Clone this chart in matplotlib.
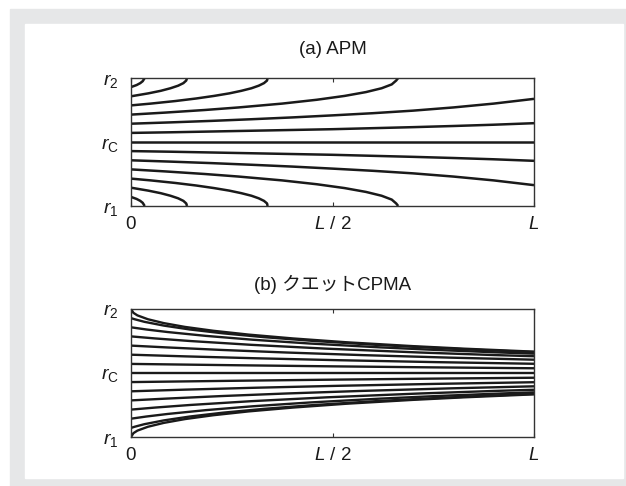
import matplotlib
matplotlib.use("Agg")
import matplotlib.pyplot as plt
from matplotlib.patches import Rectangle

plt.rcParams['font.family'] = ['Liberation Sans', 'Noto Sans CJK JP', 'DejaVu Sans']
plt.rcParams['mathtext.fontset'] = 'custom'
plt.rcParams['mathtext.rm'] = 'Liberation Sans'
plt.rcParams['mathtext.it'] = 'Liberation Sans:italic'

# axial position (fraction of L) and radius (0 = r1, 0.5 = rC, 1 = r2)
apm_x = [
    [0, 0.014, 0.023, 0.029, 0.032, 0.034],
    [0, 0.043, 0.074, 0.098, 0.117, 0.130, 0.137, 0.139],
    [0, 0.049, 0.110, 0.162, 0.206, 0.244, 0.274, 0.299, 0.317, 0.330, 0.3375, 0.339],
    [0, 0.086, 0.183, 0.267, 0.375, 0.461, 0.530, 0.583, 0.622, 0.647, 0.658, 0.663],
    [0, 0.1, 0.2, 0.3, 0.4, 0.5, 0.6, 0.7, 0.8, 0.9, 1.0],
    [0, 0.1, 0.2, 0.3, 0.4, 0.5, 0.6, 0.7, 0.8, 0.9, 1.0],
    [0, 1.0],
    [0, 0.1, 0.2, 0.3, 0.4, 0.5, 0.6, 0.7, 0.8, 0.9, 1.0],
    [0, 0.1, 0.2, 0.3, 0.4, 0.5, 0.6, 0.7, 0.8, 0.9, 1.0],
    [0, 0.086, 0.183, 0.267, 0.375, 0.461, 0.530, 0.583, 0.622, 0.647, 0.658, 0.663],
    [0, 0.049, 0.110, 0.162, 0.206, 0.244, 0.274, 0.299, 0.317, 0.330, 0.3375, 0.339],
    [0, 0.043, 0.074, 0.098, 0.117, 0.130, 0.137, 0.139],
    [0, 0.014, 0.023, 0.029, 0.032, 0.034],
]
apm_r = [
    [0.929, 0.945, 0.96, 0.975, 0.99, 1.0],
    [0.857, 0.88, 0.90, 0.92, 0.94, 0.96, 0.98, 1.0],
    [0.786, 0.80, 0.82, 0.84, 0.86, 0.88, 0.90, 0.92, 0.94, 0.96, 0.98, 1.0],
    [0.714, 0.73, 0.75, 0.77, 0.80, 0.83, 0.86, 0.89, 0.92, 0.95, 0.98, 1.0],
    [0.643, 0.6535, 0.665, 0.678, 0.692, 0.708, 0.725, 0.745, 0.770, 0.800, 0.837],
    [0.571, 0.576, 0.582, 0.588, 0.594, 0.600, 0.608, 0.616, 0.625, 0.635, 0.647],
    [0.5, 0.5],
    [0.429, 0.424, 0.418, 0.412, 0.406, 0.400, 0.392, 0.384, 0.375, 0.365, 0.353],
    [0.357, 0.3465, 0.335, 0.322, 0.308, 0.292, 0.275, 0.255, 0.230, 0.200, 0.163],
    [0.286, 0.27, 0.25, 0.23, 0.20, 0.17, 0.14, 0.11, 0.08, 0.05, 0.02, 0.0],
    [0.214, 0.20, 0.18, 0.16, 0.14, 0.12, 0.10, 0.08, 0.06, 0.04, 0.02, 0.0],
    [0.143, 0.12, 0.10, 0.08, 0.06, 0.04, 0.02, 0.0],
    [0.071, 0.055, 0.04, 0.025, 0.01, 0.0],
]

cpma_x = [
    [0, 0.006, 0.016, 0.042, 0.081, 0.134, 0.204, 0.292, 0.402, 0.535, 0.699, 0.827, 0.976, 1.0],
    [0, 0.009, 0.033, 0.082, 0.146, 0.228, 0.330, 0.455, 0.608, 0.728, 0.866, 0.984, 1.0],
    [0, 0.038, 0.091, 0.186, 0.302, 0.445, 0.620, 0.758, 0.918, 1.0],
    [0, 0.060, 0.146, 0.299, 0.486, 0.717, 0.903, 1.0],
    [0, 0.088, 0.226, 0.386, 0.572, 0.792, 1.0],
    [0, 0.134, 0.311, 0.515, 0.756, 1.0],
    [0, 0.25, 0.5, 0.75, 1.0],
    [0, 1.0],
    [0, 0.25, 0.5, 0.75, 1.0],
    [0, 0.134, 0.311, 0.515, 0.756, 1.0],
    [0, 0.088, 0.226, 0.386, 0.572, 0.792, 1.0],
    [0, 0.060, 0.146, 0.299, 0.486, 0.717, 0.903, 1.0],
    [0, 0.038, 0.091, 0.186, 0.302, 0.445, 0.620, 0.758, 0.918, 1.0],
    [0, 0.009, 0.033, 0.082, 0.146, 0.228, 0.330, 0.455, 0.608, 0.728, 0.866, 0.984, 1.0],
    [0, 0.006, 0.016, 0.042, 0.081, 0.134, 0.204, 0.292, 0.402, 0.535, 0.699, 0.827, 0.976, 1.0],
]
cpma_r = [
    [1.0, 0.97, 0.95, 0.92, 0.89, 0.86, 0.83, 0.80, 0.77, 0.74, 0.71, 0.69, 0.67, 0.667],
    [0.929, 0.92, 0.90, 0.87, 0.84, 0.81, 0.78, 0.75, 0.72, 0.70, 0.68, 0.665, 0.663],
    [0.857, 0.84, 0.82, 0.79, 0.76, 0.73, 0.70, 0.68, 0.66, 0.651],
    [0.786, 0.77, 0.75, 0.72, 0.69, 0.66, 0.64, 0.631],
    [0.714, 0.70, 0.68, 0.66, 0.64, 0.62, 0.604],
    [0.643, 0.63, 0.615, 0.60, 0.585, 0.572],
    [0.571, 0.561, 0.552, 0.544, 0.537],
    [0.5, 0.5],
    [0.429, 0.439, 0.448, 0.456, 0.463],
    [0.357, 0.37, 0.385, 0.40, 0.415, 0.428],
    [0.286, 0.30, 0.32, 0.34, 0.36, 0.38, 0.396],
    [0.214, 0.23, 0.25, 0.28, 0.31, 0.34, 0.36, 0.369],
    [0.143, 0.16, 0.18, 0.21, 0.24, 0.27, 0.30, 0.32, 0.34, 0.349],
    [0.071, 0.08, 0.10, 0.13, 0.16, 0.19, 0.22, 0.25, 0.28, 0.30, 0.32, 0.335, 0.337],
    [0.0, 0.03, 0.05, 0.08, 0.11, 0.14, 0.17, 0.20, 0.23, 0.26, 0.29, 0.31, 0.33, 0.333],
]

titles = ['(a) APM', '(b) クエットCPMA']
x_ticks = [0, 0.5, 1.0]
x_labels = ['0', '$L$ / 2', '$L$']
r_ticks = [0, 0.5, 1.0]
r_labels = ['$r_1$', '$r_{\\mathrm{C}}$', '$r_2$']

W, H = 626, 486
fig = plt.figure(figsize=(W / 100, H / 100), dpi=100)
fig.patches.append(Rectangle((10 / W, 0), 1 - 10 / W, 1 - 9 / H,
                             transform=fig.transFigure, color='#e6e7e8', zorder=-2))
fig.patches.append(Rectangle((25 / W, 8 / H), 598 / W, 454 / H,
                             transform=fig.transFigure, color='white', zorder=-1))

panels = [(apm_x, apm_r, 1.8), (cpma_x, cpma_r, 1.7)]
bottoms = [(H - 206) / H, (H - 437) / H]
title_pads = [17, 14]

for (xs, rs, lw), title, bottom, tpad in zip(panels, titles, bottoms, title_pads):
    ax = fig.add_axes([131 / W, bottom, 403 / W, 128 / H])
    for x, r in zip(xs, rs):
        ax.plot(x, r, color='#1a1a1a', lw=lw, solid_capstyle='butt')
    ax.set_xlim(0, 1)
    ax.set_ylim(0, 1)
    ax.set_xticks(x_ticks)
    ax.set_xticklabels(x_labels, fontsize=13.5)
    ax.set_yticks(r_ticks)
    ax.set_yticklabels(r_labels, fontsize=14)
    ax.tick_params(axis='x', direction='in', length=3, width=0.8, top=True,
                   pad=7, colors='#333333', labelcolor='#1a1a1a')
    ax.tick_params(axis='y', length=0, pad=9, labelcolor='#1a1a1a')
    for s in ax.spines.values():
        s.set_linewidth(1.0)
        s.set_color('#333333')
    ax.set_title(title, fontsize=13.5, pad=tpad, color='#1a1a1a')

fig.savefig('out.png', dpi=100)
